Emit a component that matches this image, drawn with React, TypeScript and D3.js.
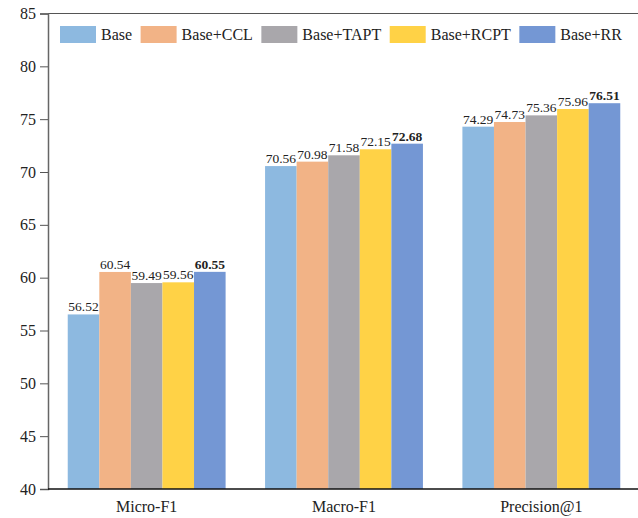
import { useEffect, useRef } from "react"
import * as d3 from "d3"

const categories = ["Micro-F1", "Macro-F1", "Precision@1"]
const seriesNames = ["Base", "Base+CCL", "Base+TAPT", "Base+RCPT", "Base+RR"]
const colors = ["#8DB9E0", "#F2B386", "#A9A7AB", "#FFD246", "#7497D4"]
const base = [56.52, 70.56, 74.29]
const ccl = [60.54, 70.98, 74.73]
const tapt = [59.49, 71.58, 75.36]
const rcpt = [59.56, 72.15, 75.96]
const rr = [60.55, 72.68, 76.51]
const yTicks = [40, 45, 50, 55, 60, 65, 70, 75, 80, 85]

const W = 638
const H = 518
const FONT = "'Liberation Serif', 'Times New Roman', serif"

export default function App() {
  const svgRef = useRef<SVGSVGElement>(null)

  useEffect(() => {
    if (!svgRef.current) return
    const svg = d3.select(svgRef.current)
    svg.selectAll("*").remove()

    const margin = { top: 13.5, right: -2, bottom: 29, left: 48 }
    const x0 = d3
      .scaleBand<string>()
      .domain(categories)
      .range([margin.left, W - margin.right])
      .paddingInner(0.2)
      .paddingOuter(0.1)
    const x1 = d3.scaleBand<string>().domain(seriesNames).range([0, x0.bandwidth()])
    const y = d3.scaleLinear().domain([40, 85]).range([H - margin.bottom, margin.top])

    const allSeries = [base, ccl, tapt, rcpt, rr]

    // frame top line
    svg
      .append("line")
      .attr("x1", margin.left)
      .attr("x2", W)
      .attr("y1", y(85))
      .attr("y2", y(85))
      .attr("stroke", "#555")
      .attr("stroke-width", 1.2)

    // bars
    allSeries.forEach((vals, si) => {
      const g = svg.append("g")
      g.selectAll("rect")
        .data(vals)
        .enter()
        .append("rect")
        .attr("x", (_, i) => x0(categories[i])! + x1(seriesNames[si])!)
        .attr("y", (d) => y(d))
        .attr("width", x1.bandwidth())
        .attr("height", (d) => y(40) - y(d))
        .attr("fill", colors[si])

      g.selectAll("text")
        .data(vals)
        .enter()
        .append("text")
        .attr("x", (_, i) => x0(categories[i])! + x1(seriesNames[si])! + x1.bandwidth() / 2)
        .attr("y", (d) => y(d) - 3)
        .attr("text-anchor", "middle")
        .style("font-family", FONT)
        .style("font-size", "13.5px")
        .style("font-weight", si === 4 ? "bold" : "normal")
        .style("fill", "#222")
        .text((d) => d.toFixed(2))
    })

    // y axis
    const yAxis = svg
      .append("g")
      .attr("transform", `translate(${margin.left},0)`)
      .call(d3.axisLeft(y).tickValues(yTicks).tickSize(8).tickPadding(4))
    yAxis.select(".domain").attr("stroke", "#666").attr("stroke-width", 1.5)
    yAxis.selectAll(".tick line").attr("stroke", "#555")
    yAxis
      .selectAll(".tick text")
      .style("font-family", FONT)
      .style("font-size", "16px")
      .style("fill", "#222")

    // x axis
    const xAxis = svg
      .append("g")
      .attr("transform", `translate(0,${y(40)})`)
      .call(d3.axisBottom(x0).tickSize(0).tickPadding(12))
    xAxis.select(".domain").attr("stroke", "#111").attr("stroke-width", 1.5).attr("d", `M${margin.left},0H${W}`)
    xAxis
      .selectAll(".tick text")
      .style("font-family", FONT)
      .style("font-size", "16px")
      .style("fill", "#222")

    // legend
    const legend = svg.append("g").attr("transform", `translate(60,26)`)
    let lx = 0
    seriesNames.forEach((name, i) => {
      const item = legend.append("g").attr("transform", `translate(${lx},0)`)
      item.append("rect").attr("width", 36).attr("height", 17).attr("fill", colors[i])
      const t = item
        .append("text")
        .attr("x", 41)
        .attr("y", 14)
        .style("font-family", FONT)
        .style("font-size", "16px")
        .style("fill", "#222")
        .text(name)
      const tw = (t.node() as SVGTextElement).getComputedTextLength()
      lx += 41 + tw + 8.5
    })
  }, [])

  return (
    <svg
      ref={svgRef}
      width={W}
      height={H}
      style={{ position: "absolute", left: 0, top: 0, background: "#fff" }}
    />
  )
}
